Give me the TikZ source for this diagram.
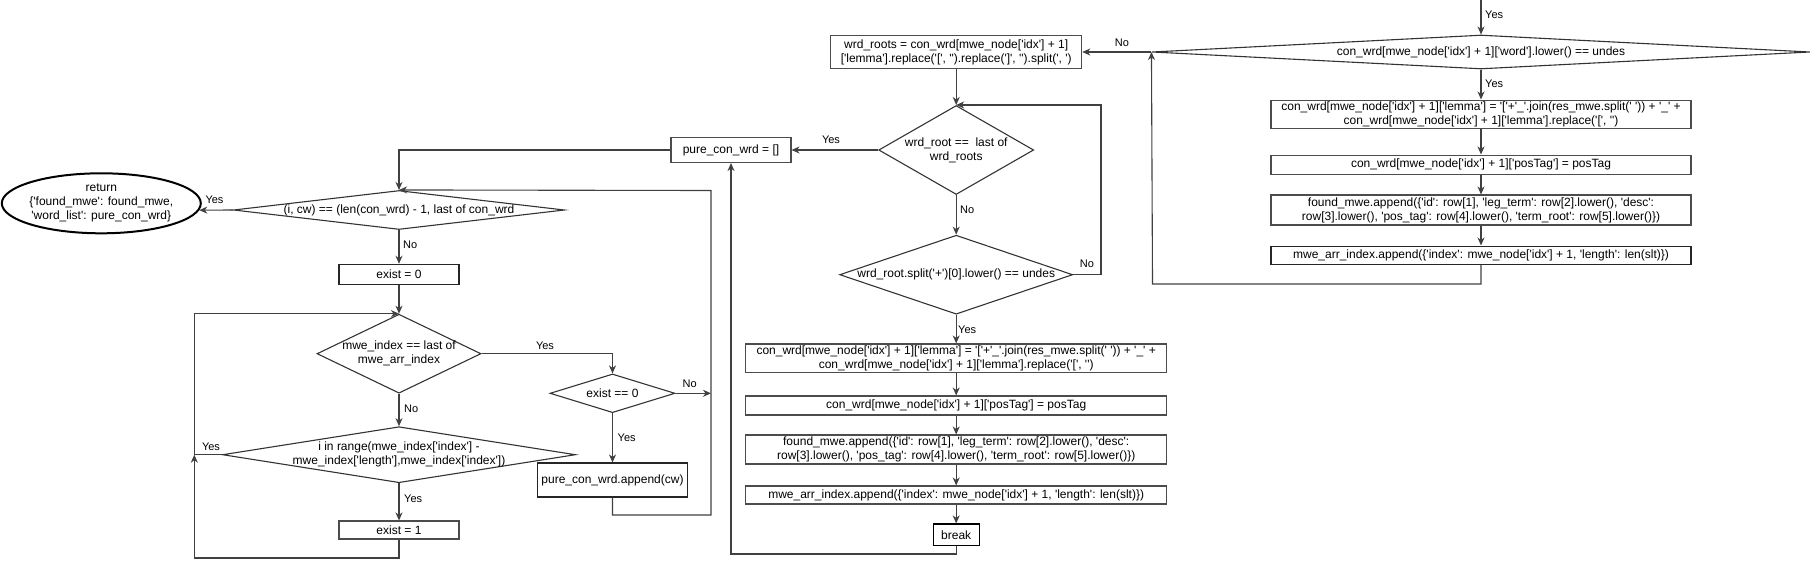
\documentclass[tikz,border=0pt]{standalone}
\usepackage{fontspec}
\setmainfont{Liberation Sans}[Ligatures=TeXOff]
\usetikzlibrary{shapes.geometric,arrows.meta}
\begin{document}
\begin{tikzpicture}[x=1pt,y=-1pt,
  every node/.style={font=\fontsize{12}{14}\selectfont},
  proc/.style={draw=black!70, line width=1.1pt, rectangle, inner sep=0pt, align=center},
  dia/.style={draw=black!80, line width=1.1pt, diamond, inner sep=0pt},
  dtxt/.style={inner sep=0pt, align=center},
  term/.style={draw=black, line width=2pt, ellipse, inner sep=0pt},
  arr/.style={draw=black!75, line width=1.1pt, -{Stealth[length=8pt,width=7pt,inset=2.5pt]}},
  lbl/.style={font=\fontsize{11}{13}\selectfont, inner sep=0pt}]
\useasboundingbox (0,0) rectangle (1819,568);

% ---------- right column ----------
\coordinate (top) at (1481,0);
\node[dia, minimum width=658pt, minimum height=34pt] (r1) at (1481,52) {};
\node[dtxt] (r1t) at (r1) {con\_wrd[mwe\_node['idx'] + 1]['word'].lower() == undes};
\node[proc, minimum width=420pt, minimum height=28.3pt] (r2) at (1481,114.2)
  {con\_wrd[mwe\_node['idx'] + 1]['lemma'] = '['+'\_'.join(res\_mwe.split(' ')) + '\_' +\\con\_wrd[mwe\_node['idx'] + 1]['lemma'].replace('[', '')};
\node[proc, minimum width=420pt, minimum height=19.3pt] (r3) at (1481,164.7)
  {con\_wrd[mwe\_node['idx'] + 1]['posTag'] = posTag};
\node[proc, minimum width=420pt, minimum height=30pt] (r4) at (1481,210)
  {found\_mwe.append(\{'id': row[1], 'leg\_term': row[2].lower(), 'desc':\\row[3].lower(), 'pos\_tag': row[4].lower(), 'term\_root': row[5].lower()\})};
\node[proc, draw=black!85, minimum width=420pt, minimum height=18.3pt] (r5) at (1481,255.2)
  {mwe\_arr\_index.append(\{'index': mwe\_node['idx'] + 1, 'length': len(slt)\})};
\coordinate (rc1) at (1481,284);
\coordinate (rc2) at (1152.5,284);

% ---------- middle column ----------
\node[proc, minimum width=251pt, minimum height=32.6pt] (m1) at (956.2,52)
  {wrd\_roots = con\_wrd[mwe\_node['idx'] + 1]\\{[}'lemma'].replace('[', '').replace(']', '').split(', ')};
\node[dia, minimum width=155pt, minimum height=89pt] (m2) at (956.2,150) {};
\node[dtxt] (m2t) at (m2) {wrd\_root ==\ \ last of\\wrd\_roots};
\node[proc, minimum width=120pt, minimum height=25pt] (p) at (731,150) {pure\_con\_wrd = []};
\node[dia, minimum width=233pt, minimum height=79pt] (m3) at (956.2,274.7) {};
\node[dtxt] (m3t) at (m3) {wrd\_root.split('+')[0].lower() == undes};
\coordinate (mc1) at (1101,274.7);
\node[proc, minimum width=421pt, minimum height=28.7pt] (m4) at (956.2,358.3)
  {con\_wrd[mwe\_node['idx'] + 1]['lemma'] = '['+'\_'.join(res\_mwe.split(' ')) + '\_' +\\con\_wrd[mwe\_node['idx'] + 1]['lemma'].replace('[', '')};
\node[proc, minimum width=421pt, minimum height=19pt] (m5) at (956.2,405.5)
  {con\_wrd[mwe\_node['idx'] + 1]['posTag'] = posTag};
\node[proc, minimum width=421pt, minimum height=29pt] (m6) at (956.2,449.5)
  {found\_mwe.append(\{'id': row[1], 'leg\_term': row[2].lower(), 'desc':\\row[3].lower(), 'pos\_tag': row[4].lower(), 'term\_root': row[5].lower()\})};
\node[proc, minimum width=421pt, minimum height=18pt] (m7) at (956.2,495)
  {mwe\_arr\_index.append(\{'index': mwe\_node['idx'] + 1, 'length': len(slt)\})};
\node[proc, draw=black, minimum width=46pt, minimum height=21.7pt] (m8) at (956.2,534.8) {break};
\coordinate (mc2) at (956.2,554);

% ---------- left part ----------
\node[term, minimum width=199pt, minimum height=60pt] (e) at (101.3,203.3) {};
\node[dtxt] (et) at (e) {return\\\{'found\_mwe': found\_mwe,\\'word\_list': pure\_con\_wrd\}};
\node[dia, minimum width=331pt, minimum height=39pt] (d1) at (399,210) {};
\node[dtxt] (d1t) at (d1) {(i, cw) == (len(con\_wrd) - 1, last of con\_wrd};
\node[proc, draw=black!85, minimum width=120pt, minimum height=20pt] (b1) at (399,274.3) {exist = 0};
\node[dia, minimum width=164pt, minimum height=79pt] (d2) at (399,353.7) {};
\node[dtxt] (d2t) at (d2) {mwe\_index == last of\\mwe\_arr\_index};
\node[dia, minimum width=125pt, minimum height=38.7pt] (d4) at (612.5,393.3) {};
\node[dtxt] (d4t) at (d4) {exist == 0};
\node[proc, draw=black!85, minimum width=150pt, minimum height=34pt] (b4) at (612.5,480) {pure\_con\_wrd.append(cw)};
\node[dia, minimum width=353pt, minimum height=56pt] (d3) at (399,454.7) {};
\node[dtxt] (d3t) at (d3) {i in range(mwe\_index['index'] -\\mwe\_index['length'],mwe\_index['index'])};
\node[proc, minimum width=120pt, minimum height=18pt] (b3) at (399,530) {exist = 1};
\coordinate (jx) at (711,393.3);
\coordinate (bc1) at (711,515);
\coordinate (bc2) at (711,190.5);
\coordinate (lx1) at (194.3,454.7);
\coordinate (lx2) at (194.3,558);

% ---------- connectors ----------
\draw[arr] (top) -- (r1.north);
\draw[arr] (r1.south) -- (r2.north);
\draw[arr] (r2.south) -- (r3.north);
\draw[arr] (r3.south) -- (r4.north);
\draw[arr] (r4.south) -- (r5.north);
\draw[arr] (r5.south) -- (rc1) -- (rc2) -- (r1.west);
\draw[arr] (r1.west) -- (m1.east);

\draw[arr] (m1.south) -- (m2.north);
\draw[arr] (m2.west) -- (p.east);
\draw[arr] (m2.south) -- (m3.north);
\draw[arr] (m3.east) -- (mc1) |- (m2.north);
\draw[arr] (m3.south) -- (m4.north);
\draw[arr] (m4.south) -- (m5.north);
\draw[arr] (m5.south) -- (m6.north);
\draw[arr] (m6.south) -- (m7.north);
\draw[arr] (m7.south) -- (m8.north);
\draw[arr] (m8.south) -- (mc2) -| (p.south);

\draw[arr] (p.west) -| (d1.north);
\draw[arr] (d1.west) -- (e.-4);
\draw[arr] (d1.south) -- (b1.north);
\draw[arr] (b1.south) -- (d2.north);
\draw[arr] (d2.east) -| (d4.north);
\draw[arr] (d4.east) -- (jx);
\draw[arr] (d4.south) -- (b4.north);
\draw[arr] (b4.south) |- (bc1) -- (bc2) -- (d1.north);
\draw[arr] (d2.south) -- (d3.north);
\draw[arr] (d3.west) -- (lx1) |- (d2.north);
\draw[arr] (d3.south) -- (b3.north);
\draw[arr] (b3.south) |- (lx2) -- (lx1);

% ---------- labels ----------
\node[lbl, anchor=west] (y1) at (1485,15) {Yes};
\node[lbl, anchor=west] (y2) at (1485,84) {Yes};
\node[lbl] (n1) at (1122,42.7) {No};
\node[lbl] (y3) at (831,139.3) {Yes};
\node[lbl, anchor=west] (n2) at (960,209.3) {No};
\node[lbl] (n3) at (1087,264) {No};
\node[lbl, anchor=west] (y4) at (958,329.3) {Yes};
\node[lbl] (y5) at (214.5,200) {Yes};
\node[lbl, anchor=west] (n4) at (403,245) {No};
\node[lbl] (y6) at (545,346) {Yes};
\node[lbl] (n5) at (689.6,384) {No};
\node[lbl, anchor=west] (y7) at (617.5,438) {Yes};
\node[lbl, anchor=west] (n6) at (404,409) {No};
\node[lbl] (y8) at (211,446.7) {Yes};
\node[lbl, anchor=west] (y9) at (404,499) {Yes};
\end{tikzpicture}
\end{document}
